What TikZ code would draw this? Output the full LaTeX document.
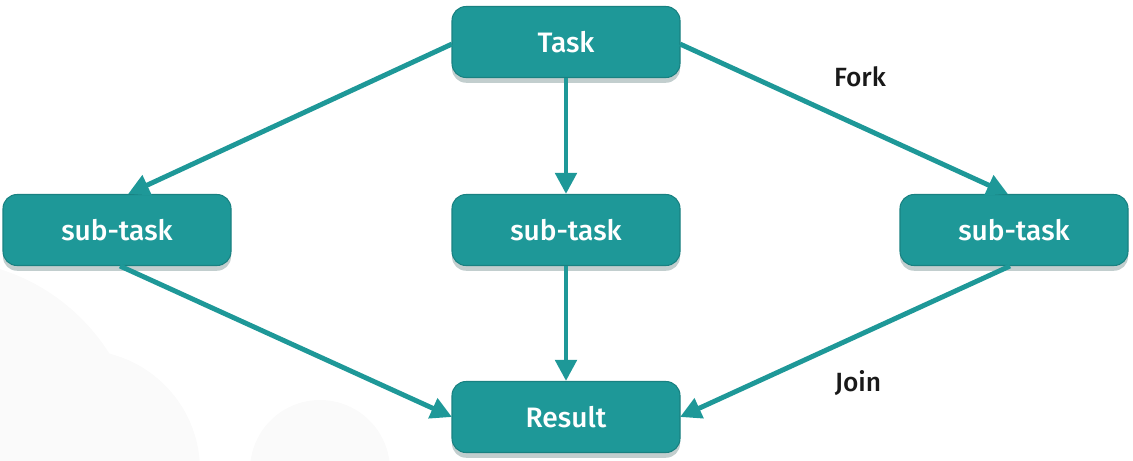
\documentclass[tikz,border=0pt]{standalone}
\usepackage{fontspec}
\setmainfont{Fira Sans}
\newfontfamily\medfont{Fira Sans Medium}
\usetikzlibrary{arrows.meta,shadows}
\definecolor{teal1}{HTML}{1E9898}
\definecolor{cloud}{HTML}{FAFAFA}
\begin{document}
\begin{tikzpicture}[x=0.02cm,y=-0.02cm,
  box/.style={draw=teal1!85!black,line width=0.6pt,fill=teal1,rounded corners=8pt,minimum width=228*0.02cm,minimum height=71*0.02cm,
    text=white,font=\medfont\fontsize{16}{18}\selectfont,inner sep=0pt,
    drop shadow={opacity=0.25,shadow xshift=0pt,shadow yshift=-3pt,fill=teal1!40!black}},
  conn/.style={draw=teal1,line width=2.8pt,-{Triangle[length=12pt,width=12pt]}},
  lbl/.style={text=black!90,font=\medfont\fontsize{15}{17}\selectfont}]
\useasboundingbox (0,0) rectangle (1133,460);
% faint background clouds
\fill[cloud] (-60,460) circle (200);
\fill[cloud] (80,470) circle (120);
\fill[cloud] (320,470) circle (70);
\node[box] (task) at (566,42) {Task};
\node[box] (s1) at (117,230) {sub-task};
\node[box] (s2) at (566,230) {sub-task};
\node[box] (s3) at (1014,230) {sub-task};
\node[box] (res) at (566,417) {Result};
\coordinate (tl) at (452,44);
\coordinate (tr) at (680,44);
\coordinate (s1t) at (128,194);
\coordinate (s3t) at (1008,194);
\coordinate (s1b) at (120,266);
\coordinate (s3b) at (1010,266);
\coordinate (rl) at (452,417);
\coordinate (rr) at (680,417);
\draw[conn] (tl) -- (s1t);
\draw[conn] (task.south) -- (s2.north);
\draw[conn] (tr) -- (s3t);
\draw[conn] (s1b) -- (rl);
\draw[conn] (s2.south) -- (res.north);
\draw[conn] (s3b) -- (rr);
\node[lbl] (fork) at (860,77) {Fork};
\node[lbl] (join) at (858,383) {Join};
\end{tikzpicture}
\end{document}
